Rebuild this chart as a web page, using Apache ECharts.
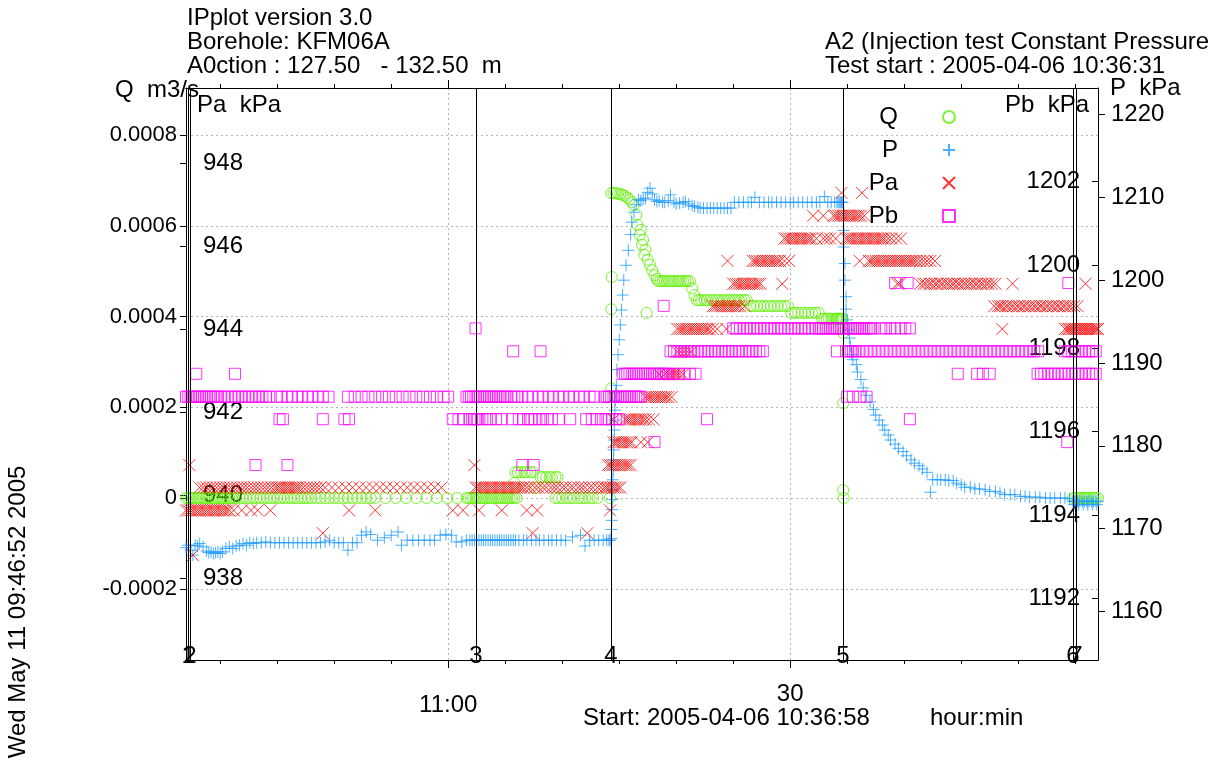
<!DOCTYPE html>
<html>
<head>
<meta charset="utf-8">
<script src="https://cdn.jsdelivr.net/npm/echarts@6/dist/echarts.min.js"></script>
<style>
  html, body { margin: 0; padding: 0; background: #fff; }
  #chart { width: 1223px; height: 762px; }
</style>
</head>
<body>
<div id="chart"></div>
<script>
// Time axis values are minutes after 10:00 on 2005-04-06.
const FONT = '"Liberation Sans", Arial, Helvetica, sans-serif';

const timeRange = [37, 117];
const timeMinorTicks = [40, 45, 50, 55, 60, 65, 70, 75, 80, 85, 90, 95, 100, 105, 110, 115];
const timeMajorTicks = [60, 90];
const timeMajorLabels = { 60: '11:00', 90: '30' };

const qRange = [-0.000357, 0.0009036];
const qTicks = [-0.0002, 0, 0.0002, 0.0004, 0.0006, 0.0008];
const paRange = [936.024, 949.807];
const paTicks = [938, 940, 942, 944, 946, 948];
const pbRange = [1190.52, 1204.25];
const pbTicks = [1192, 1194, 1196, 1198, 1200, 1202];
const pRange = [1154.14, 1223.2];
const pTicks = [1160, 1170, 1180, 1190, 1200, 1210, 1220];

// Sequence events (number, minute)
const events = [['1', 37.18], ['2', 37.35], ['3', 62.44], ['4', 74.28], ['5', 94.63], ['6', 114.81], ['7', 115.07]];

// Flow Q (m3/s): readings grouped by logged level, then single readings
const qLevels = [
  [0, [37.0,37.2,37.4,37.6,37.8,38.0,38.2,38.4,38.6,38.8,39.0,39.2,39.4,39.6,39.8,40.0,40.2,40.4,40.6,40.8,41.0,41.2,41.4,41.7,42.0,42.3,42.6,42.9,43.2,43.5,43.8,44.1,44.4,44.7,45.0,45.3,45.6,45.9,46.2,46.5,46.8,47.1,47.4,47.7,48.0,48.4,48.8,49.2,49.6,50.0,50.4,50.8,51.2,51.6,52.0,52.4,52.8,53.2,53.6,54.5,55.4,56.3,57.2,58.1,59.0,59.9,60.8,61.6,61.8,62.0,62.2,62.4,
       62.6,62.8,63.0,63.2,63.4,63.6,63.8,64.0,64.2,64.4,64.6,64.8,65.0,65.2,65.4,65.6,65.8,66.0,
       69.4,69.7,70.0,70.4,70.7,71.0,71.4,71.7,72.0,72.4,72.7,73.1,74.2,
       94.7,
       114.8,115.0,115.2,115.4,115.6,115.8,116.0,116.2,116.4,116.6,116.8,117.0]],
  [0.000057, [65.9,66.1,66.4,66.7,66.9,67.2,67.4]],
  [0.000046, [68.1,68.3,68.6,68.9,69.1,69.4,69.6]],
  [0.000478, [78.4,78.6,78.8,79.0,79.2,79.4,79.6,79.8,80.0,80.2,80.4,80.6,80.8,81.0,81.2]],
  [0.000436, [81.8,82.0,82.2,82.5,82.7,83.0,83.2,83.5,83.7,84.0,84.2,84.5,84.7,85.0,85.2,85.5,85.7,86.0,86.2]],
  [0.000423, [86.5,86.8,87.1,87.4,87.7,88.0,88.3,88.6,88.9,89.2,89.5,89.8]],
  [0.000408, [90.1,90.4,90.7,91.0,91.3,91.6,91.9,92.2,92.5]],
  [0.000395, [92.8,93.0,93.2,93.4,93.6,93.8,94.0,94.1,94.2,94.3,94.4,94.5,94.6]]
];
const qPoints = [
  [65.8,0.000033],[67.6,0.000022],
  [74.3,0.000242],[74.3,0.000416],[74.35,0.000487],
  [74.3,0.000672],[74.5,0.000672],[74.7,0.000672],[74.9,0.00067],[75.1,0.00067],[75.3,0.000668],[75.5,0.000666],[75.7,0.000662],[75.9,0.000658],[76.1,0.000652],
  [76.3,0.000646],[76.5,0.000624],[76.6,0.000602],[76.9,0.000591],[76.8,0.00058],[77.1,0.000569],[77.0,0.000558],[77.3,0.000547],[77.2,0.000536],[77.5,0.000525],[77.7,0.000514],[77.9,0.000502],[78.1,0.000491],[78.3,0.000483],
  [81.4,0.000462],[81.6,0.000447],[77.4,0.000408],
  [94.65,0.000364],[94.65,0.000209],[94.65,0.0000176]
];

// Pressure P (kPa)
const pLevels = [
  [1168.6, [61.6,61.9,62.1,62.3,62.5,62.7,62.9,63.1,63.3,63.5,63.7,63.9,64.1,64.3,64.5,64.7,64.9,65.1,65.3,65.5,65.7,65.9,66.2,66.6,66.9,67.3,67.7,68.0,68.4,68.8,69.1,69.5,69.9,70.3,72.4,72.8,73.2,73.6,73.9,74.1,74.2]],
  [1208.7, [82.1,82.4,82.7,83.0,83.3,83.6,83.9,84.2,84.5,84.8]],
  [1209.4, [85.1,85.5,85.9,86.3,86.6,87.3,87.7,88.1,88.4,88.8,89.2,89.6,90.0,90.3,90.7,91.1,91.5,91.9,92.3,92.6,93.3,93.6,93.9,94.1,94.2,94.3,94.4,94.5,94.6]],
  [1173.3, [114.8,114.9,115.0,115.2,115.4,115.6,115.8,116.0,116.2,116.4,116.6,116.8,117.0]],
  [1172.9, [114.9,115.3,115.7,116.1,116.5,116.9]]
];
const pPoints = [
  [37.0,1167.7],[37.2,1168.0],[37.4,1167.4],[37.6,1166.8],[37.8,1168.0],[38.0,1167.9],[38.2,1168.2],[38.5,1167.8],[38.8,1167.3],[39.0,1167.1],[39.2,1167.2],[39.4,1167.0],[39.6,1167.1],[39.8,1167.2],[40.0,1167.0],[40.2,1167.2],[40.5,1167.6],[40.8,1167.8],[41.1,1167.6],[41.4,1167.9],[41.7,1168.0],[42.0,1168.2],[42.3,1168.0],[42.6,1168.3],[42.9,1168.2],[43.2,1168.3],[43.6,1168.3],[44.0,1168.4],[44.4,1168.3],[44.8,1168.3],[45.2,1168.3],[45.6,1168.3],[46.0,1168.3],[46.4,1168.3],[46.8,1168.3],[47.2,1168.3],[47.6,1168.3],[48.0,1168.3],[48.4,1168.3],[48.8,1168.3],[49.2,1168.4],[49.6,1168.6],[50.0,1168.3],[50.4,1168.3],[50.8,1168.3],[51.2,1167.4],[51.6,1168.3],[52.0,1168.3],[52.4,1169.2],[52.8,1169.6],[53.2,1169.3],[53.8,1168.6],[54.4,1168.9],[55.0,1169.2],[55.6,1169.6],[55.9,1168.0],[56.4,1168.6],[56.9,1168.6],[57.4,1168.6],[57.9,1168.6],[58.4,1168.6],[58.8,1168.6],[59.3,1169.2],[59.8,1169.3],[60.3,1169.2],[60.7,1168.4],[61.2,1168.4],
  [70.9,1169.0],[71.6,1169.2],[72.0,1167.9],
  [74.3,1168.8],[74.32,1169.9],[74.35,1171.0],[74.37,1172.3],[74.4,1173.5],[74.42,1174.7],[74.45,1175.9],[74.47,1177.1],[74.5,1178.3],[74.52,1179.5],[74.55,1180.7],[74.57,1181.9],[74.6,1183.1],[74.62,1184.3],[74.65,1185.5],[74.7,1186.4],[74.75,1187.3],[74.8,1189.2],[74.9,1191.0],[75.0,1192.8],[75.1,1194.6],[75.2,1196.4],[75.3,1198.2],[75.4,1200.0],[75.6,1201.8],[75.8,1203.6],[76.0,1205.5],[76.1,1207.0],[76.3,1208.2],[76.5,1209.1],[76.7,1209.7],
  [77.5,1210.6],[77.7,1211.1],[77.9,1210.4],
  [76.9,1209.6],[77.1,1209.8],[77.3,1209.9],[78.1,1209.7],[78.3,1209.5],[78.5,1209.6],[78.8,1209.4],[79.0,1209.4],[79.3,1209.6],[79.5,1210.3],[79.8,1209.4],[80.0,1209.2],[80.3,1209.3],[80.6,1209.4],[80.8,1209.5],[81.1,1209.2],[81.4,1209.0],[81.6,1208.9],[81.9,1208.8],
  [86.9,1210.0],[93.0,1210.1],
  [94.7,1208.0],[94.7,1206.0],[94.7,1204.0],[94.8,1202.0],[94.8,1200.0],[94.9,1198.0],[94.9,1196.5],[95.0,1195.2],[95.1,1194.0],[95.2,1193.0],[95.3,1192.0],[95.4,1191.0],[95.5,1190.4],
  [95.8,1189.8],[95.9,1188.9],[96.2,1188.0],[96.4,1187.0],[96.7,1186.1],[97.0,1185.3],[97.3,1184.4],[97.5,1183.7],[97.8,1183.1],[98.1,1182.5],[98.3,1181.9],[98.6,1181.3],[98.8,1180.7],[99.2,1180.2],[99.5,1179.7],[99.9,1179.3],[100.2,1178.8],[100.6,1178.3],[100.9,1177.9],[101.3,1177.6],[101.6,1177.2],[102.0,1176.8],[102.3,1174.4],[102.5,1175.9],[102.9,1175.9],[103.2,1175.9],[103.6,1175.9],[103.9,1175.8],[104.3,1175.8],[104.6,1175.5],[105.0,1175.3],[105.3,1175.0],[105.8,1175.0],[106.2,1174.8],[106.6,1174.8],[107.1,1174.7],[107.5,1174.5],[108.0,1174.5],[108.4,1174.3],[108.8,1174.1],[109.3,1174.1],[109.7,1174.1],[110.2,1173.9],[110.6,1173.9],[111.0,1173.8],[111.5,1173.8],[111.9,1173.8],[112.4,1173.7],[112.8,1173.7],[113.2,1173.7],[113.7,1173.7],[114.1,1173.7],[114.5,1173.6]
];

// Packer pressure above, Pa (kPa)
const paLevels = [
  [938.55, [37.6]],
  [939.08, [49.0,67.4,72.2]],
  [939.63, [37.0,37.2,37.4,37.6,37.8,38.0,38.2,38.4,38.6,38.8,39.0,39.2,39.4,39.6,39.8,40.0,40.2,40.4,40.6,40.8,41.2,41.9,42.7,43.3,44.4,51.3,53.6,60.4,61.3,62.7,64.7,66.9,67.8,74.2]],
  [940.18, [38.2,38.5,38.8,39.1,39.4,39.7,40.0,40.3,40.6,40.9,41.2,41.5,41.8,42.1,42.4,42.7,43.0,43.3,43.6,43.9,44.2,44.5,44.8,45.0,45.2,45.4,45.6,45.8,46.0,46.2,46.4,46.6,46.8,47.0,47.3,47.6,47.9,48.2,48.5,48.8,49.2,49.8,50.4,51.0,51.6,52.2,52.8,53.4,54.0,54.6,55.2,55.8,56.4,57.0,57.6,58.2,58.8,59.4,
            62.4,62.6,62.8,63.0,63.2,63.4,63.6,63.8,64.0,64.2,64.4,64.6,64.8,65.0,65.2,65.4,65.6,65.8,66.0,66.2,66.4,66.6,66.9,67.2,67.6,67.9,68.3,68.6,69.0,69.3,69.6,70.0,70.3,70.7,71.0,71.4,71.7,72.0,72.4,72.7,73.1,73.4,73.7,73.9,74.1,74.3,74.5,74.7,74.9,75.1]],
  [940.72, [37.3,62.3,74.0,74.2,74.4,74.6,74.8,75.0,75.2,75.4,75.6,75.8,76.0]],
  [941.27, [74.5,74.7,74.9,75.1,75.3,75.5,75.7,75.9,76.1,76.9,77.5]],
  [941.82, [74.5,75.5,75.7,75.9,76.1,76.3,76.5,76.7,76.9,77.1,77.3,77.6,78.0]],
  [942.36, [77.3,77.5,77.7,77.9,78.1,78.3,78.5,78.7,78.9,79.1,79.3,79.6]],
  [942.91, [78.5,79.0,79.3,79.5,79.7,79.9,80.1,80.3,80.6]],
  [943.45, [80.1,80.4,80.7,81.0,81.3]],
  [944.0, [80.1,80.3,80.5,80.7,80.9,81.1,81.3,81.5,81.7,81.9,82.1,82.3,82.5,82.7,82.9,83.2,83.6,84.4,108.6,
           114.1,114.3,114.45,114.6,114.75,114.9,115.05,115.2,115.35,115.5,115.65,115.8,115.95,116.1,116.25,116.4,116.55,116.7,116.85,117.0]],
  [944.55, [83.2,83.4,83.6,83.8,84.0,84.2,84.4,84.6,84.8,85.0,85.2,85.4,85.6,86.0,
            107.9,108.2,108.4,108.6,108.9,109.1,109.4,109.6,109.9,110.1,110.4,110.6,110.9,111.1,111.4,111.6,111.9,112.1,112.4,112.6,112.9,113.1,113.4,113.6,113.9,114.1,114.4,114.6,114.9,115.2]],
  [945.09, [85.0,85.2,85.4,85.6,85.8,86.0,86.2,86.4,86.6,86.8,87.0,87.2,87.4,89.3,99.4,99.6,
            101.4,101.7,101.9,102.2,102.4,102.7,102.9,103.2,103.4,103.7,103.9,104.2,104.4,104.7,104.9,105.2,105.4,105.7,105.9,106.2,106.4,106.7,106.9,107.2,107.4,107.7,108.0,109.5,115.9]],
  [945.64, [84.5,86.7,86.9,87.1,87.3,87.5,87.7,87.9,88.1,88.3,88.5,88.7,88.9,89.1,89.5,89.9,96.1,
            96.9,97.1,97.3,97.5,97.7,97.9,98.1,98.3,98.5,98.7,98.9,99.1,99.3,99.5,99.7,99.9,100.1,100.3,100.5,100.7,100.9,101.1,101.4,101.7,102.0,102.3,102.7]],
  [946.18, [89.5,89.7,89.9,90.1,90.3,90.5,90.7,90.9,91.1,91.3,91.5,91.7,91.9,92.3,92.9,93.2,93.5,94.0,
            94.9,95.1,95.3,95.5,95.7,95.9,96.1,96.3,96.5,96.7,96.9,97.1,97.3,97.5,97.7,97.9,98.1,98.3,98.6,98.9,99.3,99.7]],
  [946.73, [92.0,92.9,93.8,94.0,94.2,94.4,94.6,94.8,95.0,95.2,95.4,95.6,95.8,96.0,96.2,96.5]],
  [947.28, [94.5,96.3]]
];

// Packer pressure below, Pb (kPa)
const pbLevels = [
  [1195.2, [43.1,45.9,66.5,67.5]],
  [1195.75, [78.1,114.3]],
  [1196.3, [45.2,45.5,49.0,50.9,51.3,60.4,60.9,61.3,61.9,62.1,62.3,62.5,62.6,63.0,63.4,63.7,64.2,64.7,65.6,66.2,66.6,67.0,67.3,67.6,68.0,68.3,68.7,69.1,69.7,70.7,72.1,72.6,73.0,73.4,73.8,74.1,74.4,74.7,75.0,82.7,100.5]],
  [1196.84, [37.0,37.2,37.4,37.6,37.8,38.0,38.2,38.4,38.6,38.8,39.0,39.2,39.4,39.6,39.8,40.1,40.4,40.7,41.0,41.3,41.6,41.9,42.2,42.5,42.8,43.1,43.4,43.7,44.0,44.3,45.0,45.4,45.9,46.3,46.8,47.2,47.7,48.1,48.6,49.0,49.5,51.2,51.8,52.4,53.0,53.6,54.2,54.8,55.4,56.0,56.6,57.2,57.8,58.4,59.0,59.6,60.0,61.6,61.8,62.0,62.2,62.4,
             62.6,62.8,63.0,63.2,63.4,63.6,63.8,64.0,64.2,64.4,64.6,64.8,65.0,65.2,65.5,65.8,66.1,66.5,67.0,67.4,67.9,68.3,68.8,69.2,69.7,70.1,70.6,71.0,71.5,71.9,72.4,72.8,73.7,73.9,74.1,74.3,74.5,74.7,74.9,75.1,75.3,75.5,75.7,75.9,76.1,76.3,76.5,76.7,76.9,
             95.0,95.5,96.1,96.7]],
  [1197.39, [37.9,41.3,75.3,75.5,75.7,75.9,76.1,76.3,76.5,76.7,76.9,77.1,77.3,77.5,77.7,77.9,78.1,78.3,78.5,78.7,78.9,79.1,79.3,79.7,80.2,80.7,81.2,81.7,
             104.7,106.4,106.9,107.5,111.7,112.0,112.3,112.6,112.9,113.2,113.5,113.8,114.1,114.4,114.7,115.0,115.3,115.6,115.9,116.2,116.5,116.8]],
  [1197.93, [65.7,68.1,79.5,79.8,80.1,80.4,80.7,81.0,81.3,81.6,81.9,82.2,82.5,82.8,83.1,83.4,83.7,84.0,84.3,84.6,84.9,85.2,85.5,85.8,86.1,86.4,86.7,87.0,87.3,87.6,
             94.1,94.9,95.1,95.3,95.5,95.7,96.0,96.35,96.7,97.05,97.4,97.75,98.1,98.45,98.8,99.15,99.5,99.85,100.2,100.55,100.9,101.25,101.6,101.95,102.3,102.65,103.0,103.35,103.7,104.05,104.4,104.75,105.1,105.45,105.8,106.15,106.5,106.85,107.2,107.55,107.9,108.25,108.6,108.95,109.3,109.65,110.0,110.35,110.7,111.05,111.4,111.75,
             114.1,114.4,114.7,115.0,115.3,115.6,115.9,116.2,116.5,116.8]],
  [1198.48, [62.4,85.0,85.3,85.6,85.9,86.2,86.5,86.8,87.1,87.4,87.7,88.0,88.3,88.6,88.9,89.2,89.5,89.8,90.1,90.4,90.7,91.0,91.3,91.6,91.9,92.2,92.5,92.7,92.9,93.1,93.3,93.5,93.7,93.9,94.1,94.3,94.5,94.7,94.9,95.1,95.3,95.5,95.7,95.9,96.1,96.3,96.5,96.7,96.9,97.1,97.3,
             98.0,98.4,98.8,99.2,99.7,100.1,100.5]],
  [1199.02, [78.9]],
  [1199.57, [99.2,100.3,114.4]]
];

const headerLeft = ['IPplot version 3.0', 'Borehole: KFM06A', 'A0ction : 127.50   - 132.50  m'];
const headerRight = ['A2 (Injection test Constant Pressure', 'Test start : 2005-04-06 10:36:31'];

const GREEN = '#5cf000', BLUE = '#1e9bff', RED = '#ff0000', MAGENTA = '#ff00ff';
const PLUS = 'path://M0,5L10,5M5,0L5,10';
const CROSS = 'path://M0,0L10,10M10,0L0,10';

function expand(levels, extra) {
  const out = [];
  levels.forEach(([v, times]) => times.forEach(t => out.push([t, v])));
  return extra ? out.concat(extra) : out;
}

function txt(text, x, y, size, extra) {
  return Object.assign({
    type: 'text', x: x, y: y, silent: true,
    style: { text: text, font: size + 'px ' + FONT, fill: '#000', align: 'left', verticalAlign: 'middle' }
  }, extra || {});
}

const tickStyle = { color: '#000', width: 1 };
const labelBase = { color: '#000', fontFamily: FONT, fontSize: 24 };
const plainNumber = v => String(v);

function xAxisDef(position, values, len, withLabels) {
  return {
    type: 'value', position: position, min: timeRange[0], max: timeRange[1],
    axisLine: { show: true, onZero: false, lineStyle: tickStyle },
    axisTick: { show: true, length: len, customValues: values, lineStyle: tickStyle },
    axisLabel: withLabels ? Object.assign({}, labelBase, {
      show: true, customValues: values, margin: 22,
      formatter: v => timeMajorLabels[v] === '11:00' ? '{a|11:00}' : '{b|' + timeMajorLabels[v] + '}',
      rich: { a: { fontSize: 24, fontFamily: FONT, color: '#000', padding: [11, 0, 0, 0] },
              b: { fontSize: 24, fontFamily: FONT, color: '#000' } }
    }) : { show: false },
    splitLine: withLabels ? { show: true, lineStyle: { color: '#b4b4b4', type: [2, 3], width: 1 } } : { show: false }
  };
}

const chart = echarts.init(document.getElementById('chart'), null, { renderer: 'canvas' });

const scatterBase = { type: 'scatter', xAxisIndex: 0, animation: false, emphasis: { disabled: true }, silent: true };

chart.setOption({
  animation: false,
  backgroundColor: '#fff',
  grid: { left: 186, top: 88, width: 912, height: 572, containLabel: false, show: false },
  legend: {
    data: ['Q', 'P', 'Pa', 'Pb'],
    orient: 'vertical', align: 'right',
    right: 267, top: 105, padding: 0, itemGap: 9,
    itemWidth: 12, itemHeight: 12,
    selectedMode: false,
    textStyle: { color: '#000', fontFamily: FONT, fontSize: 24, padding: [0, 40, 0, 0] }
  },
  xAxis: [
    xAxisDef('bottom', timeMinorTicks, 4, false),
    xAxisDef('bottom', timeMajorTicks, 8, true),
    xAxisDef('top', timeMinorTicks, 4, false),
    xAxisDef('top', timeMajorTicks, 8, false)
  ],
  yAxis: [
    {
      type: 'value', position: 'left', min: qRange[0], max: qRange[1],
      axisLine: { show: true, onZero: false, lineStyle: tickStyle },
      axisTick: { show: true, length: 6, customValues: qTicks, lineStyle: tickStyle },
      axisLabel: Object.assign({}, labelBase, { customValues: qTicks, margin: 9, fontSize: 22,
        formatter: v => v === 0 ? '0' : String(v) }),
      splitLine: { show: true, lineStyle: { color: '#b4b4b4', type: [2, 3], width: 1 } }
    },
    {
      type: 'value', position: 'left', offset: 0, min: paRange[0], max: paRange[1],
      axisLine: { show: false, onZero: false },
      axisTick: { show: true, length: 6, customValues: paTicks, lineStyle: tickStyle },
      axisLabel: Object.assign({}, labelBase, { customValues: paTicks, inside: true, margin: 17, formatter: plainNumber }),
      splitLine: { show: false }
    },
    {
      type: 'value', position: 'right', offset: 0, min: pbRange[0], max: pbRange[1],
      axisLine: { show: true, onZero: false, lineStyle: tickStyle },
      axisTick: { show: true, inside: true, length: 6, customValues: pbTicks, lineStyle: tickStyle },
      axisLabel: Object.assign({}, labelBase, { customValues: pbTicks, inside: true, margin: 18, formatter: plainNumber }),
      splitLine: { show: false }
    },
    {
      type: 'value', position: 'right', offset: 0, min: pRange[0], max: pRange[1],
      axisLine: { show: false, onZero: false },
      axisTick: { show: true, length: 7, customValues: pTicks, lineStyle: tickStyle },
      axisLabel: Object.assign({}, labelBase, { customValues: pTicks, margin: 13, formatter: plainNumber }),
      splitLine: { show: false }
    }
  ],
  series: [
    Object.assign({}, scatterBase, {
      name: 'Q', yAxisIndex: 0, symbol: 'circle', symbolSize: 11,
      itemStyle: { color: 'rgba(0,0,0,0)', borderColor: GREEN, borderWidth: 1 },
      data: expand(qLevels, qPoints),
      markLine: {
        silent: true, symbol: ['none', 'none'], animation: false,
        lineStyle: { color: '#000', type: 'solid', width: 1 },
        emphasis: { disabled: true },
        label: { show: true, position: 'start', distance: -16, formatter: p => p.name,
                 color: '#000', fontFamily: FONT, fontSize: 24 },
        data: events.map(([n, t]) => ({ name: n, xAxis: t }))
      }
    }),
    Object.assign({}, scatterBase, {
      name: 'P', yAxisIndex: 3, symbol: PLUS, symbolSize: 12,
      itemStyle: { color: 'rgba(0,0,0,0)', borderColor: BLUE, borderWidth: 1 },
      data: expand(pLevels, pPoints)
    }),
    Object.assign({}, scatterBase, {
      name: 'Pa', yAxisIndex: 1, symbol: CROSS, symbolSize: 12,
      itemStyle: { color: 'rgba(0,0,0,0)', borderColor: RED, borderWidth: 1 },
      data: expand(paLevels)
    }),
    Object.assign({}, scatterBase, {
      name: 'Pb', yAxisIndex: 2, symbol: 'rect', symbolSize: 11,
      itemStyle: { color: 'rgba(0,0,0,0)', borderColor: MAGENTA, borderWidth: 1 },
      data: expand(pbLevels)
    })
  ],
  graphic: [
    txt(headerLeft[0], 187, 18, 24),
    txt(headerLeft[1], 187, 42, 24),
    txt(headerLeft[2], 187, 66, 24),
    txt(headerRight[0], 825, 42, 24),
    txt(headerRight[1], 825, 66, 24),
    txt('Q  m3/s', 115, 90, 24),
    txt('Pa  kPa', 197, 105, 24),
    txt('Pb  kPa', 1005, 105, 24),
    txt('P  kPa', 1110, 88, 24),
    txt('Start: 2005-04-06 10:36:58', 583, 718, 24),
    txt('hour:min', 930, 718, 24),
    {
      type: 'text', x: 18, y: 612, rotation: Math.PI / 2, silent: true,
      style: { text: 'Wed May 11 09:46:52 2005', font: '24px ' + FONT, fill: '#000', align: 'center', verticalAlign: 'middle' }
    }
  ]
});
</script>
</body>
</html>
